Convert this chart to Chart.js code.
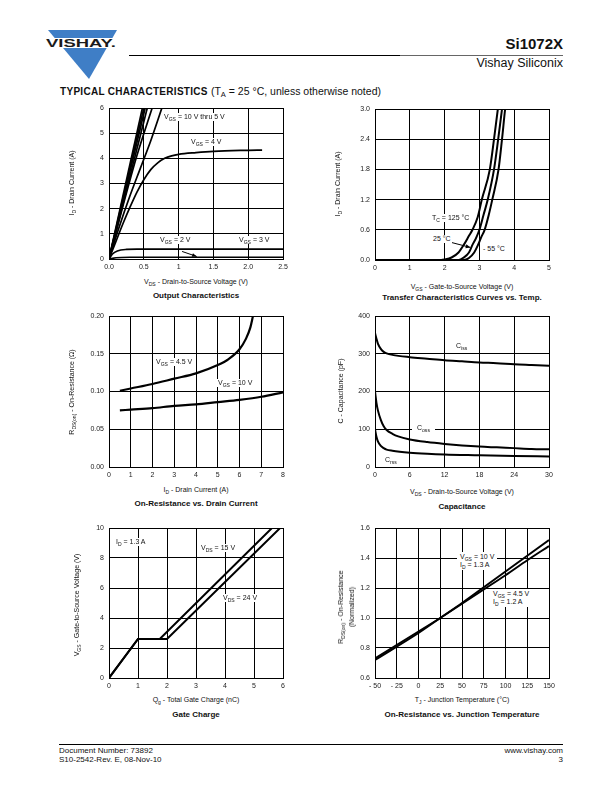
<!DOCTYPE html>
<html>

<head>
    <title>Si1072X - Typical Characteristics</title>
    <script src="https://cdn.jsdelivr.net/npm/chart.js"></script>
    <style>
        body { margin: 0; background: #fff; font-family: "Liberation Sans", Arial, sans-serif; color: #111; }
        #page { position: relative; width: 612px; height: 792px; overflow: hidden; }
        canvas { position: absolute; }
        .abs { position: absolute; white-space: nowrap; }
        .lbl { position: absolute; white-space: nowrap; font-size: 7px; line-height: 8px; background: #fff; padding: 0 1px; transform: translateY(-50%); }
        .ttl { position: absolute; white-space: nowrap; font-size: 7px; line-height: 8px; transform: translate(-50%, -50%); }
        .ytl { transform: translate(-50%, -50%) rotate(-90deg); }
        .cap { position: absolute; white-space: nowrap; font-size: 8px; font-weight: bold; transform: translate(-50%, -50%); }
        sub { font-size: 0.72em; vertical-align: -0.3em; line-height: 0; }
    </style>
</head>

<body>
    <div id="page">
        <!-- header -->
        <svg class="abs" style="left:0;top:0" width="612" height="100">
            <polygon points="48,30 117,30 89,79" fill="#3f7ec6" />
            <rect x="42" y="38" width="80" height="10" fill="#fff" />
            <text x="46" y="47" font-family="Liberation Sans, Arial" font-weight="bold" font-size="11"
                textLength="70" lengthAdjust="spacingAndGlyphs" fill="#1a1a1a">VISHAY.</text>
            <line x1="129" y1="55.5" x2="400" y2="55.5" stroke="#000" stroke-width="1" />
            <line x1="400" y1="55.5" x2="563" y2="55.5" stroke="#666" stroke-width="1" />
        </svg>
        <div class="abs" style="right:49px;top:35px;font-size:15px;font-weight:bold">Si1072X</div>
        <div class="abs" style="right:49px;top:56px;font-size:12.5px">Vishay Siliconix</div>
        <div class="abs" style="left:60px;top:85px;font-size:10px;font-weight:bold;letter-spacing:0.3px;line-height:12px">TYPICAL CHARACTERISTICS
            <span style="font-weight:normal;font-size:10.5px;letter-spacing:0">(T<sub>A</sub> = 25 °C, unless otherwise noted)</span></div>

        <canvas id="c1"></canvas>
        <canvas id="c2"></canvas>
        <canvas id="c3"></canvas>
        <canvas id="c4"></canvas>
        <canvas id="c5"></canvas>
        <canvas id="c6"></canvas>

        <!-- chart 1 texts -->
        <div class="ttl ytl" style="left:72px;top:183px">I<sub>D</sub> - Drain Current (A)</div>
        <div class="ttl" style="left:196px;top:282px">V<sub>DS</sub> - Drain-to-Source Voltage (V)</div>
        <div class="cap" style="left:196px;top:295px">Output Characteristics</div>
        <div class="lbl" style="left:163px;top:117px">V<sub>GS</sub> = 10 V thru 5 V</div>
        <div class="lbl" style="left:190px;top:142px">V<sub>GS</sub> = 4 V</div>
        <div class="lbl" style="left:159px;top:240px">V<sub>GS</sub> = 2 V</div>
        <div class="lbl" style="left:238px;top:240px">V<sub>GS</sub> = 3 V</div>

        <!-- chart 2 texts -->
        <div class="ttl ytl" style="left:338px;top:184px">I<sub>D</sub> - Drain Current (A)</div>
        <div class="ttl" style="left:462px;top:287px">V<sub>GS</sub> - Gate-to-Source Voltage (V)</div>
        <div class="cap" style="left:462px;top:297px">Transfer Characteristics Curves vs. Temp.</div>
        <div class="lbl" style="left:431px;top:218px">T<sub>C</sub> = 125 °C</div>
        <div class="lbl" style="left:432px;top:239px">25 °C</div>
        <div class="lbl" style="left:482px;top:249px">- 55 °C</div>

        <!-- chart 3 texts -->
        <div class="ttl ytl" style="left:72px;top:392px">R<sub>DS(on)</sub> - On-Resistance (Ω)</div>
        <div class="ttl" style="left:196px;top:490px">I<sub>D</sub> - Drain Current (A)</div>
        <div class="cap" style="left:196px;top:503px">On-Resistance vs. Drain Current</div>
        <div class="lbl" style="left:155px;top:362px">V<sub>GS</sub> = 4.5 V</div>
        <div class="lbl" style="left:217px;top:383px">V<sub>GS</sub> = 10 V</div>

        <!-- chart 4 texts -->
        <div class="ttl ytl" style="left:341px;top:391px">C - Capacitance (pF)</div>
        <div class="ttl" style="left:462px;top:492px">V<sub>DS</sub> - Drain-to-Source Voltage (V)</div>
        <div class="cap" style="left:462px;top:506px">Capacitance</div>
        <div class="lbl" style="left:455px;top:346px">C<sub>iss</sub></div>
        <div class="lbl" style="left:412px;top:428px;padding:0 5px">C<sub>oss</sub></div>
        <div class="lbl" style="left:384px;top:460px">C<sub>rss</sub></div>

        <!-- chart 5 texts -->
        <div class="ttl ytl" style="left:77px;top:605px">V<sub>GS</sub> - Gate-to-Source Voltage (V)</div>
        <div class="ttl" style="left:196px;top:700px">Q<sub>g</sub> - Total Gate Charge (nC)</div>
        <div class="cap" style="left:196px;top:714px">Gate Charge</div>
        <div class="lbl" style="left:115px;top:542px">I<sub>D</sub> = 1.3 A</div>
        <div class="lbl" style="left:200px;top:548px">V<sub>DS</sub> = 15 V</div>
        <div class="lbl" style="left:222px;top:598px">V<sub>DS</sub> = 24 V</div>

        <!-- chart 6 texts -->
        <div class="ttl ytl" style="left:346px;top:607px;text-align:center;line-height:11px">R<sub>DS(on)</sub> - On-Resistance<br>(Normalized)</div>
        <div class="ttl" style="left:462px;top:700px">T<sub>J</sub> - Junction Temperature (°C)</div>
        <div class="cap" style="left:462px;top:714px">On-Resistance vs. Junction Temperature</div>
        <div class="lbl" style="left:457px;top:561px;padding:1px 3px">V<sub>GS</sub> = 10 V<br>I<sub>D</sub> = 1.3 A</div>
        <div class="lbl" style="left:490px;top:598px;padding:1px 3px">V<sub>GS</sub> = 4.5 V<br>I<sub>D</sub> = 1.2 A</div>

        <!-- footer -->
        <div class="abs" style="left:59px;top:744px;width:504px;border-top:1px solid #000"></div>
        <div class="abs" style="left:59px;top:746px;font-size:8px;line-height:9px">Document Number: 73892<br>S10-2542-Rev. E, 08-Nov-10</div>
        <div class="abs" style="right:49px;top:746px;font-size:8px;line-height:9px;text-align:right">www.vishay.com<br>3</div>
    </div>

    <script>
        // ---- Output characteristics: VDS (V), ID (A) ----
        const out10V = [[0, 0], [0.48, 6]];
        const out9V = [[0, 0], [0.5, 6]];
        const out8V = [[0, 0], [0.52, 6]];
        const out7V = [[0, 0], [0.55, 6]];
        const out6V = [[0, 0], [0.2, 2.1], [0.4, 4.1], [0.62, 6]];
        const out5V = [[0, 0], [0.15, 1.3], [0.3, 2.5], [0.45, 3.6], [0.6, 4.7], [0.76, 6]];
        const out4V = [[0, 0], [0.1, 0.7], [0.2, 1.4], [0.3, 2.05], [0.4, 2.65], [0.5, 3.15], [0.6, 3.55], [0.7, 3.82],
            [0.8, 4.0], [0.9, 4.1], [1.0, 4.16], [1.25, 4.23], [1.5, 4.28], [2.0, 4.32], [2.2, 4.33]];
        const out3V = [[0, 0], [0.05, 0.2], [0.12, 0.32], [0.25, 0.38], [0.4, 0.39], [2.5, 0.39]];
        const out2V = [[0, 0], [0.1, 0.05], [0.3, 0.07], [2.5, 0.07]];
        const outXTicks = [0, 0.5, 1, 1.5, 2, 2.5];
        const outXLabels = ['0.0', '0.5', '1', '1.5', '2.0', '2.5'];
        const outYTicks = [0, 1, 2, 3, 4, 5, 6];
        const outYLabels = ['0', '1', '2', '3', '4', '5', '6'];
        const outArrows = [[1.05, 0.3, 1.26, 0.1]];

        // ---- Transfer characteristics: VGS (V), ID (A) ----
        const tr125C = [[0, 0], [1.9, 0], [2.0, 0.01], [2.2, 0.05], [2.4, 0.15], [2.55, 0.3], [2.7, 0.48], [2.8, 0.6],
            [2.95, 0.85], [3.07, 1.2], [3.3, 1.8], [3.42, 2.4], [3.53, 3.0], [3.57, 3.2]];
        const tr25C = [[0, 0], [2.4, 0], [2.55, 0.05], [2.7, 0.15], [2.8, 0.3], [2.9, 0.43], [3.0, 0.6], [3.12, 0.9],
            [3.24, 1.2], [3.42, 1.8], [3.54, 2.4], [3.65, 3.0], [3.69, 3.2]];
        const trMinus55C = [[0, 0], [2.55, 0], [2.7, 0.04], [2.85, 0.15], [2.96, 0.3], [3.05, 0.45], [3.15, 0.6],
            [3.27, 0.9], [3.37, 1.2], [3.55, 1.8], [3.65, 2.4], [3.74, 3.0], [3.78, 3.2]];
        const trXTicks = [0, 1, 2, 3, 4, 5];
        const trXLabels = ['0', '1', '2', '3', '4', '5'];
        const trYTicks = [0, 0.6, 1.2, 1.8, 2.4, 3.0];
        const trYLabels = ['0.0', '0.6', '1.2', '1.8', '2.4', '3.0'];
        const trArrows = [[2.02, 0.38, 2.74, 0.25]];

        // ---- On-resistance vs drain current: ID (A), RDS(on) (ohm) ----
        const ronVgs45 = [[0.5, 0.101], [1, 0.104], [2, 0.110], [3, 0.117], [4, 0.124], [5, 0.135], [5.5, 0.143],
            [6, 0.156], [6.3, 0.170], [6.5, 0.185], [6.62, 0.2]];
        const ronVgs10 = [[0.5, 0.075], [1, 0.076], [2, 0.078], [3, 0.081], [4, 0.083], [5, 0.086], [6, 0.089],
            [7, 0.093], [8, 0.099]];
        const ronXTicks = [0, 1, 2, 3, 4, 5, 6, 7, 8];
        const ronXLabels = ['0', '1', '2', '3', '4', '5', '6', '7', '8'];
        const ronYTicks = [0, 0.05, 0.1, 0.15, 0.2];
        const ronYLabels = ['0.00', '0.05', '0.10', '0.15', '0.20'];

        // ---- Capacitance: VDS (V), C (pF) ----
        const capCiss = [[0, 355], [0.25, 340], [0.5, 327], [1, 313], [1.5, 305], [2, 301], [3, 297], [6, 291], [9, 287],
            [12, 283], [15, 280], [18, 277], [21, 275], [24, 272], [27, 270], [30, 268]];
        const capCoss = [[0, 200], [0.25, 170], [0.5, 150], [1, 125], [1.5, 108], [2, 98], [3, 88], [4, 81], [6, 73],
            [9, 66], [12, 61], [15, 57], [18, 54], [21, 52], [24, 50], [27, 48], [30, 47]];
        const capCrss = [[0, 100], [0.25, 80], [0.5, 68], [1, 56], [1.5, 50], [2, 46], [3, 43], [6, 38], [9, 35],
            [12, 33], [18, 31], [24, 29], [30, 28]];
        const capXTicks = [0, 6, 12, 18, 24, 30];
        const capXLabels = ['0', '6', '12', '18', '24', '30'];
        const capYTicks = [0, 100, 200, 300, 400];
        const capYLabels = ['0', '100', '200', '300', '400'];

        // ---- Gate charge: Qg (nC), VGS (V) ----
        const qgVds15 = [[0, 0], [1.0, 2.6], [1.75, 2.6], [5.62, 10]];
        const qgVds24 = [[0, 0], [1.0, 2.6], [2.0, 2.6], [5.9, 10]];
        const qgXTicks = [0, 1, 2, 3, 4, 5, 6];
        const qgXLabels = ['0', '1', '2', '3', '4', '5', '6'];
        const qgYTicks = [0, 2, 4, 6, 8, 10];
        const qgYLabels = ['0', '2', '4', '6', '8', '10'];

        // ---- On-resistance vs junction temperature: TJ (C), normalized RDS(on) ----
        const tjVgs10 = [[-50, 0.72], [0, 0.90], [25, 1.0], [50, 1.1], [75, 1.205], [100, 1.31], [125, 1.415], [150, 1.52]];
        const tjVgs45 = [[-50, 0.73], [0, 0.91], [25, 1.0], [50, 1.095], [75, 1.19], [100, 1.285], [125, 1.385], [150, 1.48]];
        const tjXTicks = [-50, -25, 0, 25, 50, 75, 100, 125, 150];
        const tjXLabels = ['- 50', '- 25', '0', '25', '50', '75', '100', '125', '150'];
        const tjYTicks = [0.6, 0.8, 1.0, 1.2, 1.4, 1.6];
        const tjYLabels = ['0.6', '0.8', '1.0', '1.2', '1.4', '1.6'];

        // space round each plot area inside its canvas
        const PL = 35, PT = 8, PR = 12, PB = 16;
        const FONT = { family: '"Liberation Sans", Arial, sans-serif', size: 7 };

        const arrowPlugin = {
            id: 'arrows',
            afterDatasetsDraw(chart, args, opts) {
                const { ctx, scales } = chart;
                (opts.list || []).forEach(a => {
                    const x1 = scales.x.getPixelForValue(a[0]), y1 = scales.y.getPixelForValue(a[1]);
                    const x2 = scales.x.getPixelForValue(a[2]), y2 = scales.y.getPixelForValue(a[3]);
                    const ang = Math.atan2(y2 - y1, x2 - x1);
                    ctx.save();
                    ctx.strokeStyle = '#000';
                    ctx.fillStyle = '#000';
                    ctx.lineWidth = 1;
                    ctx.beginPath();
                    ctx.moveTo(x1, y1);
                    ctx.lineTo(x2, y2);
                    ctx.stroke();
                    ctx.beginPath();
                    ctx.moveTo(x2, y2);
                    ctx.lineTo(x2 - 5 * Math.cos(ang - 0.4), y2 - 5 * Math.sin(ang - 0.4));
                    ctx.lineTo(x2 - 5 * Math.cos(ang + 0.4), y2 - 5 * Math.sin(ang + 0.4));
                    ctx.closePath();
                    ctx.fill();
                    ctx.restore();
                });
            }
        };

        const axis = (ticks, labels, isX) => ({
            type: 'linear',
            min: ticks[0],
            max: ticks[ticks.length - 1],
            grid: { color: '#000', lineWidth: 1, drawTicks: false },
            border: { color: '#000', width: 1 },
            ticks: {
                font: FONT, color: '#222', padding: isX ? 4 : 5, autoSkip: false, maxRotation: 0,
                callback: (v, i) => labels[i]
            },
            afterBuildTicks: s => { s.ticks = ticks.map(v => ({ value: v })); },
            afterFit: s => {
                if (isX) { s.height = PB; s.paddingLeft = 0; s.paddingRight = 0; }
                else { s.width = PL; s.paddingTop = 0; s.paddingBottom = 0; }
            }
        });

        // box = [left, top, width, height] of the plot area on the page
        const plot = (id, box, sets, xs, xl, ys, yl, smooth, width, arrows) => {
            const cv = document.getElementById(id);
            cv.width = box[2] + PL + PR;
            cv.height = box[3] + PT + PB;
            cv.style.left = (box[0] - PL) + 'px';
            cv.style.top = (box[1] - PT) + 'px';
            return new Chart(cv, {
                type: 'line',
                data: {
                    datasets: sets.map(d => ({
                        data: d.map(p => ({ x: p[0], y: p[1] })),
                        borderColor: '#000',
                        borderWidth: width,
                        pointRadius: 0,
                        fill: false,
                        tension: 0,
                        cubicInterpolationMode: smooth ? 'monotone' : 'default'
                    }))
                },
                options: {
                    responsive: false,
                    animation: false,
                    devicePixelRatio: 1,
                    events: [],
                    layout: { padding: { left: 0, top: PT, right: PR, bottom: 0 } },
                    plugins: { legend: { display: false }, tooltip: { enabled: false }, arrows: { list: arrows || [] } },
                    scales: { x: axis(xs, xl, true), y: axis(ys, yl, false) }
                },
                plugins: [arrowPlugin]
            });
        };

        plot('c1', [109, 108, 174, 151], [out10V, out9V, out8V, out7V, out6V, out5V, out4V, out3V, out2V],
            outXTicks, outXLabels, outYTicks, outYLabels, true, 1.7, outArrows);
        plot('c2', [375, 109, 174, 151], [tr125C, tr25C, trMinus55C],
            trXTicks, trXLabels, trYTicks, trYLabels, true, 2, trArrows);
        plot('c3', [109, 316, 174, 151], [ronVgs45, ronVgs10],
            ronXTicks, ronXLabels, ronYTicks, ronYLabels, true, 2.2);
        plot('c4', [375, 316, 174, 151], [capCiss, capCoss, capCrss],
            capXTicks, capXLabels, capYTicks, capYLabels, true, 2);
        plot('c5', [109, 528, 174, 150], [qgVds15, qgVds24],
            qgXTicks, qgXLabels, qgYTicks, qgYLabels, false, 2);
        plot('c6', [375, 528, 174, 150], [tjVgs10, tjVgs45],
            tjXTicks, tjXLabels, tjYTicks, tjYLabels, true, 2);
    </script>
</body>

</html>
